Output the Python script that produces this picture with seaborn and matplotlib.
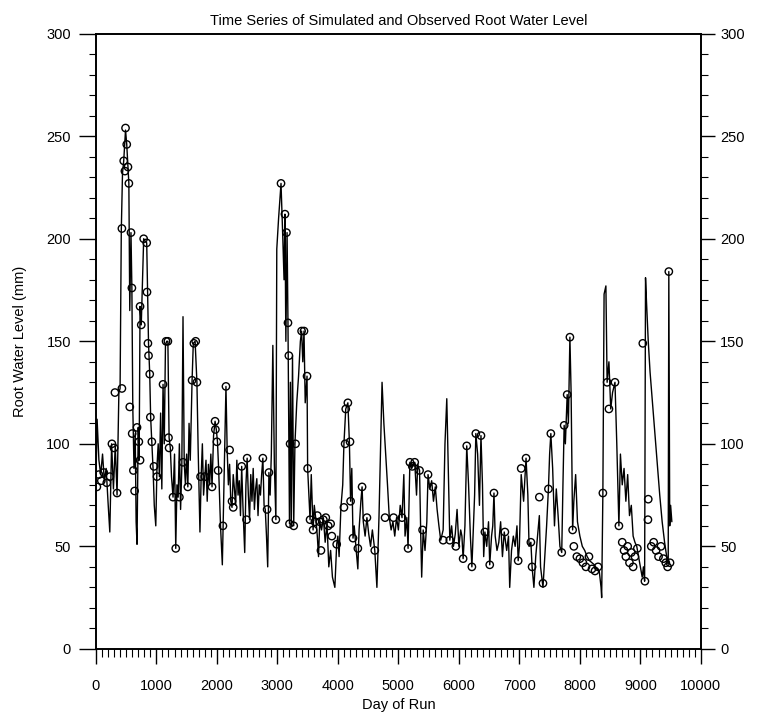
import numpy as np
import pandas as pd
import matplotlib
matplotlib.use("Agg")
import matplotlib.pyplot as plt
from matplotlib.ticker import MultipleLocator
import seaborn as sns

# --- DATA ---
# simulated root water level (line)
SIM_DAY = [
    0, 20, 50, 80, 110, 140, 170, 200, 230, 260, 290, 320, 350, 380, 400,
    420, 440, 460, 490, 510, 530, 545, 560, 580, 595, 610, 630, 650, 665, 680,
    700, 715, 730, 750, 790, 810, 840, 855, 870, 890, 905, 925, 945, 965, 990,
    1010, 1030, 1050, 1070, 1090, 1110, 1130, 1150, 1170, 1190, 1210, 1230, 1250, 1275, 1300,
    1320, 1340, 1360, 1380, 1400, 1420, 1440, 1460, 1480, 1500, 1520, 1540, 1560, 1590, 1610,
    1640, 1670, 1690, 1720, 1740, 1760, 1780, 1800, 1820, 1840, 1860, 1880, 1900, 1920, 1945,
    1970, 1990, 2010, 2030, 2060, 2090, 2110, 2150, 2170, 2190, 2210, 2230, 2250, 2270, 2290,
    2310, 2330, 2350, 2370, 2390, 2410, 2430, 2460, 2480, 2500, 2520, 2540, 2560, 2580, 2600,
    2620, 2640, 2660, 2680, 2700, 2720, 2740, 2760, 2780, 2800, 2820, 2840, 2860, 2880, 2900,
    2925, 2950, 2975, 2990, 3020, 3060, 3090, 3110, 3125, 3140, 3160, 3175, 3190, 3200, 3215,
    3230, 3250, 3270, 3290, 3320, 3350, 3380, 3400, 3420, 3440, 3460, 3490, 3500, 3520, 3540,
    3560, 3590, 3610, 3640, 3660, 3680, 3700, 3730, 3760, 3790, 3820, 3850, 3880, 3910, 3950,
    3980, 4000, 4020, 4050, 4080, 4100, 4130, 4165, 4190, 4210, 4230, 4250, 4270, 4300, 4330,
    4350, 4380, 4400, 4420, 4450, 4480, 4510, 4540, 4570, 4610, 4645, 4680, 4730, 4760, 4790,
    4820, 4850, 4880, 4910, 4940, 4970, 5000, 5030, 5060, 5090, 5110, 5140, 5160, 5190, 5220,
    5250, 5270, 5300, 5320, 5350, 5370, 5385, 5410, 5440, 5470, 5490, 5520, 5550, 5580, 5610,
    5640, 5670, 5700, 5740, 5770, 5800, 5820, 5850, 5880, 5910, 5940, 5970, 6000, 6030, 6050,
    6070, 6100, 6130, 6160, 6190, 6215, 6240, 6260, 6280, 6310, 6340, 6365, 6390, 6410, 6430,
    6460, 6490, 6510, 6540, 6560, 6580, 6600, 6630, 6660, 6690, 6720, 6750, 6790, 6820, 6840,
    6870, 6900, 6930, 6960, 6980, 7000, 7030, 7070, 7110, 7140, 7160, 7190, 7210, 7240, 7270,
    7300, 7330, 7350, 7390, 7420, 7450, 7480, 7500, 7520, 7550, 7580, 7610, 7640, 7670, 7700,
    7720, 7740, 7760, 7790, 7810, 7835, 7855, 7880, 7900, 7930, 7960, 8000, 8040, 8080, 8120,
    8160, 8200, 8240, 8280, 8320, 8350, 8360, 8380, 8400, 8430, 8450, 8480, 8510, 8540, 8580,
    8610, 8645, 8670, 8700, 8730, 8760, 8790, 8820, 8850, 8880, 8910, 8940, 8970, 9000, 9030,
    9050, 9070, 9085, 9100, 9130, 9160, 9200, 9240, 9280, 9320, 9360, 9400, 9440, 9460, 9470,
    9485, 9500, 9520,
]
SIM_VAL = [
    80, 112, 92, 85, 95, 82, 88, 72, 57, 100, 78, 99, 75, 125, 127,
    204, 232, 238, 253, 246, 235, 227, 165, 203, 176, 118, 88, 105, 62, 51,
    108, 92, 167, 158, 200, 199, 198, 174, 149, 134, 113, 101, 88, 70, 60,
    89, 100, 84, 115, 78, 129, 100, 148, 150, 150, 103, 98, 84, 74, 95,
    49, 80, 74, 100, 68, 88, 162, 91, 80, 95, 79, 110, 92, 131, 149,
    150, 130, 98, 57, 84, 100, 75, 84, 92, 72, 90, 80, 95, 79, 104,
    111, 107, 101, 87, 60, 41, 70, 128, 97, 80, 90, 72, 69, 85, 78,
    70, 92, 75, 82, 65, 89, 70, 47, 80, 93, 75, 63, 85, 72, 88,
    68, 78, 83, 65, 80, 75, 85, 93, 70, 68, 55, 40, 86, 75, 95,
    148, 90, 63, 195, 210, 227, 200, 180, 212, 150, 203, 159, 100, 61, 130,
    60, 143, 60, 100, 120, 133, 150, 155, 140, 155, 120, 133, 88, 75, 63,
    85, 58, 70, 62, 55, 45, 62, 58, 64, 52, 61, 40, 48, 35, 30,
    51, 55, 45, 69, 80, 100, 117, 120, 101, 72, 88, 54, 60, 49, 39,
    58, 72, 79, 62, 55, 64, 56, 50, 58, 48, 30, 65, 130, 110, 95,
    80, 64, 58, 62, 55, 64, 58, 70, 64, 85, 55, 64, 49, 91, 88,
    90, 91, 75, 90, 87, 55, 35, 58, 48, 62, 85, 78, 82, 72, 79,
    68, 60, 53, 58, 100, 122, 95, 53, 60, 50, 56, 68, 50, 58, 55,
    44, 60, 99, 80, 55, 40, 60, 75, 105, 95, 70, 104, 80, 45, 57,
    50, 62, 41, 55, 60, 76, 55, 48, 52, 62, 45, 57, 48, 55, 30,
    48, 55, 50, 60, 43, 50, 85, 72, 93, 75, 50, 52, 40, 30, 45,
    55, 65, 40, 30, 45, 60, 78, 95, 105, 88, 60, 78, 65, 50, 47,
    80, 109, 100, 124, 110, 152, 125, 58, 72, 85, 62, 55, 50, 48, 45,
    43, 42, 41, 39, 38, 30, 25, 76, 173, 177, 130, 140, 117, 125, 130,
    100, 60, 95, 80, 88, 72, 85, 65, 70, 55, 52, 50, 45, 40, 35,
    40, 33, 181, 170, 150, 135, 120, 105, 90, 75, 62, 52, 44, 42, 184,
    60, 70, 62,
]

# observed root water level (open circles)
OBS_DAY = [
    16, 50, 90, 130, 180, 230, 265, 300, 315, 350, 430, 430, 460, 480, 490,
    510, 530, 545, 580, 595, 560, 600, 620, 640, 680, 710, 730, 730, 750, 790,
    840, 845, 860, 870, 890, 900, 925, 960, 1010, 1110, 1160, 1190, 1200, 1210, 1275,
    1320, 1380, 1440, 1520, 1590, 1620, 1650, 1670, 1730, 1800, 1920, 1970, 1975, 2000,
    2020, 2100, 2150, 2210, 2250, 2270, 2410, 2500, 2490, 2760, 2830, 2860, 2975, 3060, 3125,
    3150, 3175, 3190, 3210, 3200, 3270, 3300, 3400, 3440, 3490, 3500, 3540, 3590, 3620, 3660,
    3700, 3720, 3760, 3800, 3840, 3880, 3900, 3980, 4100, 4130, 4165, 4120, 4200, 4210, 4250,
    4330, 4400, 4480, 4610, 4780, 4920, 5060, 5160, 5190, 5230, 5270, 5350, 5400, 5490, 5570,
    5740, 5850, 5950, 6070, 6130, 6215, 6280, 6365, 6430, 6510, 6580, 6760, 6980, 7030, 7110,
    7190, 7210, 7330, 7390, 7480, 7520, 7700, 7740, 7790, 7835, 7880, 7900, 7950, 8000, 8050,
    8100, 8150, 8200, 8250, 8300, 8380, 8450, 8480, 8580, 8645, 8700, 8730, 8760, 8790, 8820,
    8850, 8880, 8910, 8950, 9040, 9075, 9125, 9130, 9180, 9220, 9260, 9300, 9340, 9380, 9420,
    9450, 9470, 9490,
]
OBS_VAL = [
    79, 85, 82, 86, 81, 84, 100, 98, 125, 76, 127, 205, 238, 233, 254,
    246, 235, 227, 203, 176, 118, 105, 87, 77, 108, 101, 92, 167, 158, 200,
    198, 174, 149, 143, 134, 113, 101, 89, 84, 129, 150, 150, 103, 98, 74,
    49, 74, 91, 79, 131, 149, 150, 130, 84, 84, 79, 111, 107, 101,
    87, 60, 128, 97, 72, 69, 89, 93, 63, 93, 68, 86, 63, 227, 212,
    203, 159, 143, 100, 61, 60, 100, 155, 155, 133, 88, 63, 58, 62, 65,
    62, 48, 63, 64, 60, 61, 55, 51, 69, 117, 120, 100, 101, 72, 54,
    49, 79, 64, 48, 64, 64, 64, 49, 91, 89, 91, 87, 58, 85, 79,
    53, 53, 50, 44, 99, 40, 105, 104, 57, 41, 76, 57, 43, 88, 93,
    52, 40, 74, 32, 78, 105, 47, 109, 124, 152, 58, 50, 45, 44, 42,
    40, 45, 39, 38, 40, 76, 130, 117, 130, 60, 52, 48, 45, 50, 42,
    47, 40, 45, 49, 149, 33, 63, 73, 50, 52, 48, 45, 50, 44, 42,
    40, 184, 42,
]

X_TICKS = [0, 1000, 2000, 3000, 4000, 5000, 6000, 7000, 8000, 9000, 10000]
Y_TICKS = [0, 50, 100, 150, 200, 250, 300]

sim = pd.DataFrame({"day": SIM_DAY, "level": SIM_VAL})
obs = pd.DataFrame({"day": OBS_DAY, "level": OBS_VAL})

sns.set_theme(style="ticks")
plt.rcParams["font.family"] = ["Liberation Sans", "DejaVu Sans"]
plt.rcParams["text.color"] = "black"
plt.rcParams["axes.labelcolor"] = "black"

fig = plt.figure(figsize=(7.61, 7.17), dpi=100)
ax = fig.add_axes([0.126, 0.095, 0.795, 0.858])

sns.lineplot(data=sim, x="day", y="level", color="black", linewidth=1.0,
             estimator=None, sort=False, ax=ax)
sns.scatterplot(data=obs, x="day", y="level", facecolor="none", edgecolor="black",
                linewidth=1.0, s=28, marker="o", ax=ax, zorder=3)

ax.set_xlim(0, 10000)
ax.set_ylim(0, 300)
ax.set_xticks(X_TICKS)
ax.set_yticks(Y_TICKS)
ax.xaxis.set_minor_locator(MultipleLocator(100))
ax.yaxis.set_minor_locator(MultipleLocator(10))

for s in ax.spines.values():
    s.set_color("black")
    s.set_linewidth(1.2)

# right-hand copy of the y axis
ax2 = ax.twinx()
ax2.set_ylim(0, 300)
ax2.set_yticks(Y_TICKS)
ax2.yaxis.set_minor_locator(MultipleLocator(10))
for s in ax2.spines.values():
    s.set_color("black")
    s.set_linewidth(1.2)

ax.tick_params(axis="both", which="both", direction="out", colors="black", labelsize=10.5)
ax.tick_params(axis="y", which="major", length=12, width=1.0, pad=6)
ax.tick_params(axis="y", which="minor", length=5, width=0.8)
ax.tick_params(axis="x", which="major", length=11, width=1.0, pad=11)
ax.tick_params(axis="x", which="minor", length=6, width=0.8)
ax.tick_params(axis="x", which="both", top=False)
ax2.tick_params(axis="y", which="both", direction="out", colors="black", labelsize=10.5)
ax2.tick_params(axis="y", which="major", length=10, width=1.0, pad=4)
ax2.tick_params(axis="y", which="minor", length=5, width=0.8)

ax.set_xlabel("Day of Run", fontsize=10.5, labelpad=3)
ax.set_ylabel("Root Water Level (mm)", fontsize=10.5, labelpad=14)
ax.set_title("Time Series of Simulated and Observed Root Water Level", fontsize=10.5, pad=6)

fig.savefig("out.png", dpi=100, facecolor="white")
